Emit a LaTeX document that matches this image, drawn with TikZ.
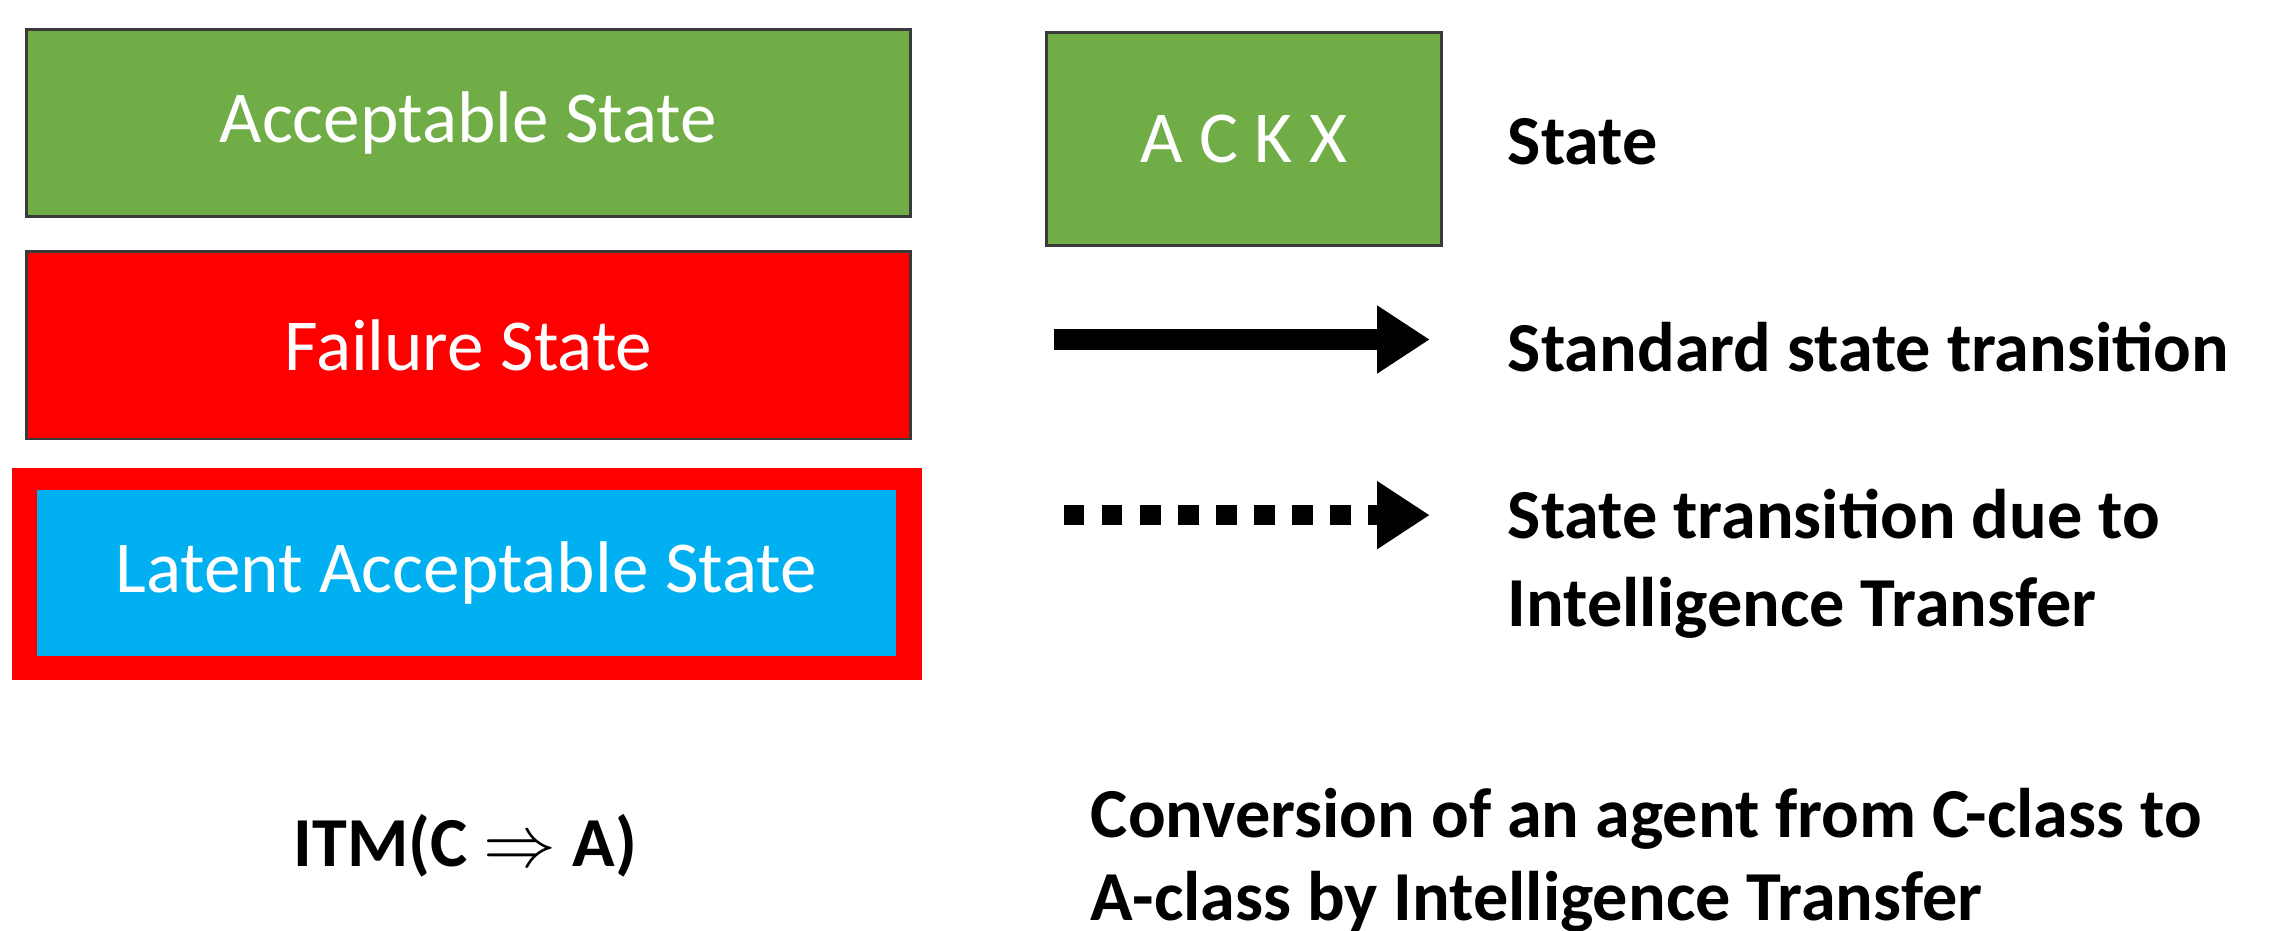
\documentclass[tikz,border=0pt]{standalone}
\usepackage{amsmath}
\usepackage{fontspec}
\setmainfont{Carlito}
\usetikzlibrary{arrows.meta}
\definecolor{accgreen}{HTML}{70AD47}
\definecolor{failred}{HTML}{FF0000}
\definecolor{latblue}{HTML}{00B0F0}
\definecolor{edgegray}{HTML}{3A3A3A}
\tikzset{
  statebox/.style={draw=edgegray, line width=1pt, text=white, font=\fontsize{25}{29}\selectfont,
    minimum width=302pt, minimum height=64pt, inner sep=0pt},
  legendtext/.style={anchor=west, font=\fontsize{24}{28.5}\selectfont\bfseries, align=left, inner sep=0pt},
  bigarrow/.style={line width=7pt, -{Triangle[length=18pt,width=22pt]}}
}
\begin{document}
\begin{tikzpicture}[x=0.5pt,y=-0.5pt]
\useasboundingbox (0,0) rectangle (1560,636);

% left column: the three kinds of state
\node[statebox, fill=accgreen] (accept) at (320,84) {Acceptable State};
\node[statebox, fill=failred] (failure) at (320,236) {Failure State};
\node[fill=failred, minimum width=311pt, minimum height=72.5pt, inner sep=0pt] (latentrim) at (319,392) {};
\node[fill=latblue, text=white, font=\fontsize{25}{29}\selectfont,
  minimum width=293.5pt, minimum height=56.5pt, inner sep=0pt] (latent) at (318.5,391.5) {Latent Acceptable State};
\node[font=\fontsize{24}{28}\selectfont\bfseries] (itm) at (318,578) {ITM(C $\Rightarrow$ A)};

% right column: legend
\node[statebox, fill=accgreen, minimum width=135pt, minimum height=73pt] (ackx) at (850,95) {A C K X};
\node[legendtext] (statelbl) at (1030,97) {State};

\coordinate (solidA) at (720,232);
\coordinate (solidB) at (977,232);
\draw[bigarrow] (solidA) -- (solidB);
\node[legendtext] (stdlbl) at (1030,237) {Standard state transition};

\coordinate (dotA) at (727,352);
\coordinate (dotB) at (977,352);
\draw[bigarrow, dash pattern=on 7pt off 6pt] (dotA) -- (dotB);
\node[legendtext] (itlbl) at (1030,385) {State transition due to\\[1.5pt]Intelligence Transfer};

\node[legendtext] (convlbl) at (745,588) {Conversion of an agent from C-class to\\A-class by Intelligence Transfer};
\end{tikzpicture}
\end{document}
